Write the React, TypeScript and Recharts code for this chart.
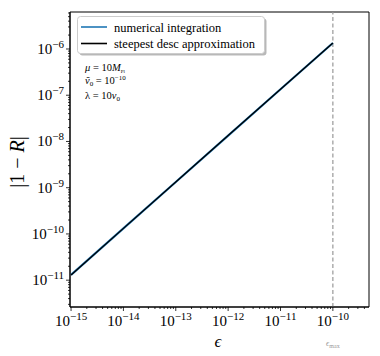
import React from 'react';
import { LineChart, Line, XAxis, YAxis, ReferenceLine, ReferenceArea, Legend } from 'recharts';

// epsilon samples and |1 - R|
const epsilon = [1e-15, 1e-14, 1e-13, 1e-12, 1e-11, 1e-10];
const numerical = [1.3e-11, 1.32e-10, 1.33e-9, 1.34e-8, 1.35e-7, 1.35e-6];
const steepest = [1.3e-11, 1.32e-10, 1.33e-9, 1.34e-8, 1.35e-7, 1.35e-6];

const xDecades = [-15, -14, -13, -12, -11, -10];
const yDecades = [-11, -10, -9, -8, -7, -6];
const epsMax = 1e-10;

const xDomain = [Math.pow(10, -15.02), Math.pow(10, -9.31)];
const yDomain = [Math.pow(10, -11.58), Math.pow(10, -5.2)];

const data = epsilon.map((e, i) => ({ eps: e, num: numerical[i], sd: steepest[i] }));

const logTicks = (lo: number, hi: number) => {
  const out: number[] = [];
  for (let k = Math.floor(Math.log10(lo)); k <= Math.ceil(Math.log10(hi)); k++) {
    for (let m = 1; m < 10; m++) {
      const v = m * Math.pow(10, k);
      if (v >= lo && v <= hi) out.push(v);
    }
  }
  return out;
};
const xTicks = logTicks(xDomain[0], xDomain[1]);
const yTicks = logTicks(yDomain[0], yDomain[1]);

const serif = '"Liberation Serif", "DejaVu Serif", serif';

const decade = (v: number) => {
  const l = Math.log10(v);
  return Math.abs(l - Math.round(l)) < 1e-6 ? Math.round(l) : null;
};

const XTick = (props: any) => {
  const { x, y, payload } = props;
  const d = decade(payload.value);
  const show = d !== null && xDecades.includes(d);
  return (
    <g>
      <line x1={x} x2={x} y1={y} y2={y + (d !== null ? 4 : 2)} stroke="#000" strokeWidth={0.8} />
      {show && (
        <text x={x} y={y + 19} textAnchor="middle" fontFamily={serif} fontSize={15} fill="#000">
          <tspan>10</tspan>
          <tspan dy={-6} fontSize={11}>{'\u2212' + Math.abs(d as number)}</tspan>
        </text>
      )}
    </g>
  );
};

const YTick = (props: any) => {
  const { x, y, payload } = props;
  const d = decade(payload.value);
  const show = d !== null && yDecades.includes(d);
  return (
    <g>
      <line x1={x} x2={x - (d !== null ? 4 : 2)} y1={y} y2={y} stroke="#000" strokeWidth={0.8} />
      {show && (
        <text x={x - 6} y={y + 5} textAnchor="end" fontFamily={serif} fontSize={15} fill="#000">
          <tspan>10</tspan>
          <tspan dy={-6} fontSize={11}>{'\u2212' + Math.abs(d as number)}</tspan>
        </text>
      )}
    </g>
  );
};

const EpsMaxLabel = (props: any) => {
  const { viewBox } = props;
  const cx = viewBox.x;
  const by = viewBox.y + viewBox.height;
  return (
    <text x={cx} y={by + 39} textAnchor="middle" fontFamily={serif} fontSize={8} fill="#999">
      <tspan fontStyle="italic">{'\u03f5'}</tspan>
      <tspan dy={2} fontSize={6}>max</tspan>
    </text>
  );
};

const legendItems = [
  { label: 'numerical integration', color: '#1f77b4' },
  { label: 'steepest desc approximation', color: '#000000' },
];

const LegendBox = () => (
  <svg width={192} height={42} style={{ display: 'block' }}>
    <rect x={2.5} y={2.5} width={187} height={37} rx={3} fill="rgba(0,0,0,0.28)" />
    <rect x={0.5} y={0.5} width={187} height={37} rx={3} fill="#fff" stroke="#cccccc" />
    {legendItems.map((it, i) => (
      <g key={it.label}>
        <line x1={4} x2={30} y1={11 + i * 16.5} y2={11 + i * 16.5} stroke={it.color} strokeWidth={1.6} />
        <text x={37} y={15.5 + i * 16.5} fontFamily={serif} fontSize={12.5} fill="#000">
          {it.label}
        </text>
      </g>
    ))}
  </svg>
);

export default function App() {
  return (
    <div style={{ position: 'absolute', left: 0, top: 0, width: 380, height: 356, background: '#fff' }}>
      <LineChart width={380} height={356} data={data} margin={{ top: 12, right: 11, bottom: 19, left: 10 }}>
        <XAxis
          dataKey="eps"
          type="number"
          scale="log"
          domain={xDomain}
          allowDataOverflow
          ticks={xTicks}
          interval={0}
          tick={<XTick />}
          tickLine={false}
          tickSize={0}
          tickMargin={0}
          height={30}
          axisLine={{ stroke: '#000', strokeWidth: 1 }}
        />
        <YAxis
          type="number"
          scale="log"
          domain={yDomain}
          allowDataOverflow
          ticks={yTicks}
          interval={0}
          tick={<YTick />}
          tickLine={false}
          tickSize={0}
          tickMargin={0}
          width={60}
          axisLine={{ stroke: '#000', strokeWidth: 1 }}
        />
        <ReferenceArea
          x1={xDomain[0]}
          x2={xDomain[1]}
          y1={yDomain[0]}
          y2={yDomain[1]}
          fill="none"
          stroke="#000"
          strokeWidth={1}
          ifOverflow="visible"
        />
        <ReferenceLine
          x={epsMax}
          stroke="#999999"
          strokeWidth={1.2}
          strokeDasharray="4 2.5"
          label={<EpsMaxLabel />}
        />
        <Line dataKey="num" stroke="#1f77b4" strokeWidth={2.2} dot={false} isAnimationActive={false} />
        <Line dataKey="sd" stroke="#000" strokeWidth={1.3} dot={false} isAnimationActive={false} />
        <Legend
          layout="horizontal"
          verticalAlign="middle"
          content={<LegendBox />}
          wrapperStyle={{ position: 'absolute', left: 77, top: 16, width: 192, height: 42 }}
        />
      </LineChart>
      <svg width={380} height={356} style={{ position: 'absolute', left: 0, top: 0, pointerEvents: 'none' }}>
        <text
          transform="translate(24,162) rotate(-90)"
          textAnchor="middle"
          fontFamily={serif}
          fontSize={20}
          fill="#000"
        >
          |1 − <tspan fontStyle="italic">R</tspan>|
        </text>
        <text x={218} y={347} textAnchor="middle" fontFamily={serif} fontSize={17} fontStyle="italic" fill="#000">
          {'\u03f5'}
        </text>
        <g fontFamily={serif} fontSize={10.5} fill="#000">
          <text x={85} y={71}>
            <tspan fontStyle="italic">μ</tspan> = 10<tspan fontStyle="italic">M</tspan>
            <tspan dy={2} fontSize={5}>Pl</tspan>
          </text>
          <text x={85} y={84}>
            <tspan fontStyle="italic">ṽ</tspan>
            <tspan dy={2} fontSize={7}>0</tspan>
            <tspan dy={-2}> = 10</tspan>
            <tspan dy={-4} fontSize={7}>−10</tspan>
          </text>
          <text x={85} y={99}>
            λ = 10<tspan fontStyle="italic">v</tspan>
            <tspan dy={2} fontSize={7}>0</tspan>
          </text>
        </g>
      </svg>
    </div>
  );
}
